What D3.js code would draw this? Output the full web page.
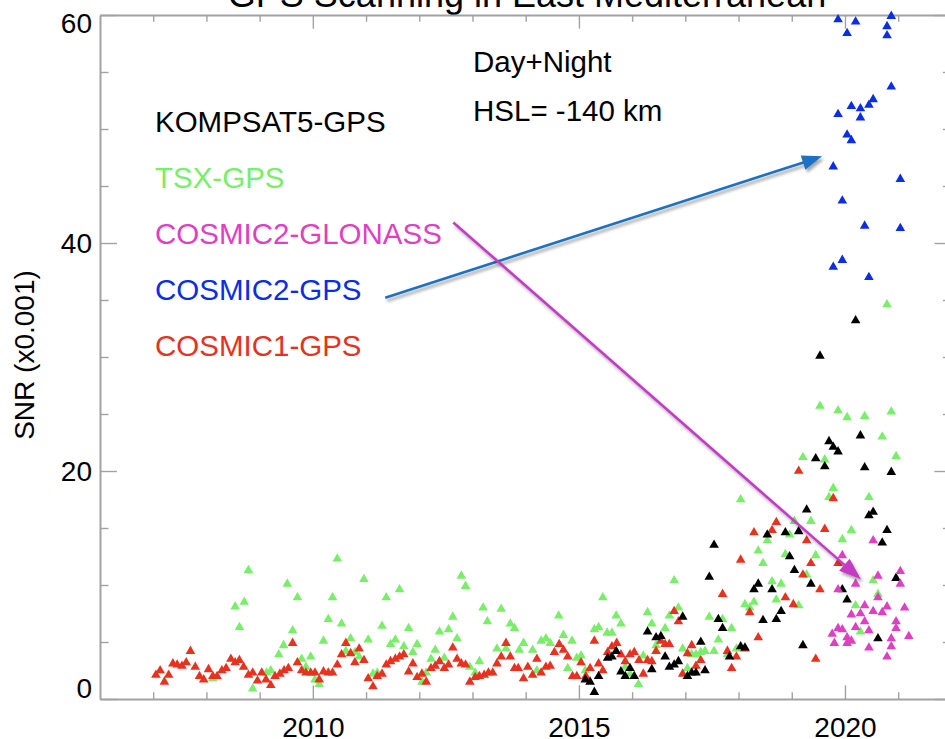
<!DOCTYPE html>
<html>
<head>
<meta charset="utf-8">
<script src="https://cdn.jsdelivr.net/npm/d3@7/dist/d3.min.js"></script>
<style>
  html, body { margin: 0; padding: 0; background: #fff; }
  svg { display: block; font-family: "Liberation Sans", Arial, Helvetica, sans-serif; }
</style>
</head>
<body>
<svg id="chart" width="945" height="739"></svg>
<script>
// ---- series: decimal year and SNR (x0.001) ----
const cosmic1Year = [
  2007.05,2007.13,2007.21,2007.29,2007.37,2007.45,2007.54,2007.62,2007.70,2007.79,2007.87,2007.95,
  2008.04,2008.12,2008.20,2008.29,2008.37,2008.46,2008.54,2008.62,2008.70,2008.79,2008.87,2008.96,
  2009.04,2009.12,2009.21,2009.29,2009.38,2009.46,2009.54,2009.62,2009.71,2009.79,2009.87,2009.96,
  2010.04,2010.12,2010.20,2010.29,2010.37,2010.46,2010.54,2010.62,2010.71,2010.79,2010.87,2010.96,
  2011.04,2011.13,2011.21,2011.30,2011.38,2011.46,2011.55,2011.63,2011.71,2011.80,2011.88,2011.96,
  2012.05,2012.13,2012.22,2012.30,2012.38,2012.47,2012.55,2012.63,2012.71,2012.79,2012.87,2012.95,
  2013.05,2013.13,2013.22,2013.30,2013.38,2013.46,2013.54,2013.63,2013.71,2013.79,2013.86,2013.96,
  2014.04,2014.13,2014.21,2014.29,2014.38,2014.46,2014.54,2014.63,2014.71,2014.79,2014.88,2014.96,
  2015.04,2015.13,2015.21,2015.29,2015.37,2015.45,2015.54,2015.62,2015.71,2015.79,2015.87,2015.96,
  2016.04,2016.13,2016.21,2016.29,2016.37,2016.45,2016.54,2016.62,2016.70,2016.79,2016.87,2016.95,
  2017.04,2017.12,2017.20,2017.29,2017.70,2017.79,2017.87,2017.96,
  2018.04,2018.12,2018.21,2018.29,2018.37,2018.63,2018.71,2018.88,
  2019.03,2019.13,2019.21,2019.28,2019.36,2019.45,2019.53,2019.62,2019.78,2019.87
];
const cosmic1Snr = [
  2.1,2.5,1.5,2.1,3.1,3.0,2.9,3.2,4.2,2.8,2.0,1.7,
  2.6,2.0,2.0,2.5,2.7,3.5,3.2,3.4,2.8,2.1,2.3,1.6,
  2.3,1.7,1.2,2.0,2.2,2.5,2.7,4.9,3.2,2.5,2.3,2.3,
  2.3,1.7,2.4,2.3,2.3,3.0,3.9,4.9,4.0,3.2,4.4,3.4,
  1.8,1.1,2.0,2.2,3.0,3.3,3.5,3.7,3.9,2.4,3.1,1.9,
  2.2,1.5,2.7,2.9,3.3,2.7,3.0,4.5,3.5,3.1,3.0,1.5,
  1.9,2.0,2.1,2.3,2.3,3.1,3.7,4.9,3.7,2.7,2.7,1.8,
  2.8,2.1,3.5,2.3,2.8,2.9,4.1,4.8,4.3,3.7,2.0,2.0,
  3.2,2.0,2.7,5.1,3.1,2.5,4.1,4.6,4.9,3.9,3.3,3.9,
  4.1,3.4,2.2,3.4,3.3,4.2,5.1,4.8,4.8,7.7,6.8,2.2,
  4.0,4.7,2.9,3.4,9.2,4.2,2.7,3.7,
  12.2,4.4,7.6,14.6,5.4,14.8,15.5,8.9,
  8.3,20.0,10.9,13.9,11.9,3.5,9.6,14.9,17.6,11.9
];

const tsxYear = [
  2008.12,2008.54,2008.62,2008.71,2008.79,2008.87,2009.13,2009.21,2009.36,2009.45,2009.52,2009.62,
  2009.71,2009.79,2009.87,2009.96,2010.04,2010.12,2010.20,2010.29,2010.37,2010.46,2010.54,2010.62,
  2010.71,2010.79,2010.87,2010.96,2011.04,2011.13,2011.21,2011.30,2011.38,2011.46,2011.55,2011.63,
  2011.71,2011.80,2011.88,2011.96,2012.05,2012.13,2012.22,2012.30,2012.38,2012.47,2012.55,2012.63,
  2012.71,2012.79,2012.87,2012.95,2013.05,2013.13,2013.20,2013.28,2013.46,2013.54,2013.63,2013.71,
  2013.79,2013.88,2013.96,2014.13,2014.21,2014.29,2014.38,2014.46,2014.62,2014.71,2014.79,2014.87,
  2014.96,2015.04,2015.12,2015.29,2015.37,2015.45,2015.53,2015.62,2015.70,2015.79,2015.87,2015.96,
  2016.12,2016.21,2016.29,2016.37,2016.45,2016.62,2016.70,2016.79,2016.87,2016.95,2017.04,2017.12,
  2017.20,2017.29,2017.37,2017.45,2017.54,2017.62,2017.70,2017.79,2017.87,2017.96,2018.04,2018.12,
  2018.21,2018.29,2018.37,2018.46,2018.54,2018.63,2018.71,2018.80,2018.88,2018.96,2019.05,2019.13,
  2019.21,2019.28,2019.36,2019.45,2019.53,2019.62,2019.70,2019.78,2019.87,2019.95,2020.04,2020.12,
  2020.20,2020.29,2020.37,2020.45,2020.53,2020.62,2020.70,2020.79,2020.87,2020.96
];
const tsxSnr = [
  1.8,8.1,6.3,8.5,11.3,0.9,2.3,2.5,3.9,4.7,10.1,6.0,
  8.9,3.5,2.8,3.7,1.7,1.3,5.1,7.0,8.9,12.3,6.6,4.2,
  5.3,4.1,3.7,10.5,5.2,2.2,2.3,6.4,8.9,4.8,5.2,9.6,
  4.6,6.2,4.1,4.8,1.5,2.3,3.5,4.3,5.9,3.6,6.1,7.2,
  5.3,10.8,9.9,2.8,2.3,3.3,8.0,6.8,4.4,7.9,4.4,6.6,
  6.2,4.3,4.9,4.3,2.5,5.1,5.3,4.9,7.3,5.6,2.7,5.1,
  3.6,3.8,2.5,6.1,6.3,8.9,5.8,5.8,7.3,6.6,2.8,2.2,
  1.3,3.8,7.6,6.6,4.7,6.2,7.3,10.4,8.0,4.4,2.7,3.9,
  3.9,4.1,4.2,7.2,4.2,5.2,7.0,3.9,6.2,4.4,17.5,8.3,
  8.0,8.5,13.0,11.9,13.9,10.3,8.7,10.1,12.7,14.4,15.6,8.2,
  21.2,10.9,15.6,12.6,25.7,21.0,17.7,18.5,25.3,14.0,24.7,14.8,
  8.2,5.9,24.8,17.7,10.4,9.2,23.0,34.6,25.2,21.3
];

const kompsatYear = [
  2015.12,2015.21,2015.29,2015.37,2015.54,2015.62,2015.70,2015.79,2015.87,2015.96,2016.04,2016.29,
  2016.37,2016.45,2016.54,2016.62,2016.70,2016.79,2016.87,2016.95,2017.04,2017.12,2017.20,2017.29,
  2017.37,2017.45,2017.54,2017.62,2017.70,2017.83,2018.04,2018.12,2018.29,2018.37,2018.46,2018.54,
  2018.63,2018.71,2018.80,2018.88,2018.96,2019.05,2019.13,2019.21,2019.28,2019.36,2019.45,2019.53,
  2019.62,2019.70,2019.78,2019.87,2019.95,2020.04,2020.20,2020.29,2020.37,2020.45,2020.53,2020.62,
  2020.70,2020.79,2020.87,2020.96
];
const kompsatSnr = [
  1.7,1.5,0.6,2.0,3.6,3.7,4.2,2.4,2.0,2.7,2.0,5.9,
  2.6,5.4,5.5,3.7,2.8,3.0,3.3,7.2,2.0,2.3,2.3,5.0,
  2.5,10.7,13.5,7.0,6.2,3.7,4.6,4.5,9.6,10.1,6.9,14.4,
  9.6,7.0,7.7,14.6,12.5,11.3,14.7,4.7,16.6,10.1,21.1,30.1,
  20.4,22.6,22.1,21.7,9.6,8.7,33.2,23.1,20.3,16.1,16.4,5.3,
  13.7,14.8,19.9,10.6
];

const glonassYear = [
  2019.76,2019.80,2019.87,2019.87,2019.95,2019.95,2020.04,2020.04,2020.12,2020.12,2020.20,2020.20,
  2020.29,2020.37,2020.37,2020.45,2020.45,2020.53,2020.53,2020.62,2020.62,2020.70,2020.79,2020.79,
  2020.87,2020.87,2020.96,2020.96,2021.04,2021.04,2021.12,2021.20
];
const glonassSnr = [
  5.7,4.9,9.6,6.2,12.6,6.1,5.4,4.9,7.4,5.1,10.1,6.3,
  7.5,8.2,6.8,6.0,4.5,13.9,7.7,10.8,8.9,7.6,8.1,3.7,
  5.3,4.6,6.8,6.2,11.2,10.1,8.0,5.5
];

const cosmic2Year = [
  2019.78,2019.78,2019.87,2019.87,2019.95,2019.95,2020.04,2020.04,2020.12,2020.12,2020.20,2020.29,
  2020.29,2020.37,2020.45,2020.45,2020.53,2020.79,2020.79,2020.87,2020.87,2021.04,2021.04
];
const cosmic2Snr = [
  46.7,37.9,59.6,51.3,43.7,38.5,58.4,49.5,52.0,49.0,59.4,51.8,
  51.0,41.5,52.1,37.0,52.6,59.0,58.2,59.9,53.7,45.6,41.3
];

// ---- axis ticks and labels ----
const xMajorTicks = [2010, 2015, 2020];
const xMinorTicks = [2007, 2008, 2009, 2011, 2012, 2013, 2014, 2016, 2017, 2018, 2019, 2021];
const yMajorTicks = [0, 20, 40, 60];
const yMinorTicks = [5, 10, 15, 25, 30, 35, 45, 50, 55];

// ---- legend / annotation text ----
const legendNames = ["KOMPSAT5-GPS", "TSX-GPS", "COSMIC2-GLONASS", "COSMIC2-GPS", "COSMIC1-GPS"];
const legendColors = ["#000000", "#78ee69", "#e03fc2", "#0b2de6", "#e6321f"];
const titleText = "GPS Scanning in East Mediterranean";
const noteLines = ["Day+Night", "HSL= -140 km"];
const yLabel = "SNR (x0.001)";

// annotation arrows in data units: [x0, y0, x1, y1]
const arrowBlue = [2011.36, 35.2, 2019.57, 47.6];
const arrowMagenta = [2012.64, 41.8, 2020.30, 10.5];

(function () {
  // ---- layout ----
  const svg = d3.select("#chart");
  const plotLeft = 100, plotRight = 951.4, plotTop = 15, plotBottom = 699;
  const x = d3.scaleLinear().domain([2006, 2022]).range([plotLeft, plotRight]);
  const y = d3.scaleLinear().domain([0, 60]).range([plotBottom, plotTop]);

  const axisColor = "#a2a2a2";
  const tickFont = 28;
  const textFont = 29.5;

  const defs = svg.append("defs");
  const shadow = defs.append("filter").attr("id", "arrowShadow")
    .attr("x", "-10%").attr("y", "-10%").attr("width", "130%").attr("height", "130%");
  shadow.append("feDropShadow").attr("dx", 2).attr("dy", 3).attr("stdDeviation", 1.6)
    .attr("flood-color", "#000").attr("flood-opacity", 0.35);

  // title (sits above the frame, largely outside the page)
  svg.append("text").attr("x", 527).attr("y", 7).attr("text-anchor", "middle")
    .attr("font-size", 36).attr("fill", "#000").text(titleText);

  function styleAxis(g) {
    g.selectAll("path.domain").attr("stroke", axisColor).attr("stroke-width", 2);
    g.selectAll(".tick line").attr("stroke", axisColor).attr("stroke-width", 1.4);
    g.selectAll("text").attr("font-size", tickFont).attr("fill", "#000")
      .attr("font-family", "'Liberation Sans', Arial, Helvetica, sans-serif");
  }

  const gx = svg.append("g").attr("transform", `translate(0,${plotBottom})`)
    .call(d3.axisBottom(x).tickValues(xMajorTicks).tickFormat(d3.format("d"))
      .tickSize(-13.7).tickSizeOuter(0).tickPadding(18));
  styleAxis(gx);
  const gxMinor = svg.append("g").attr("transform", `translate(0,${plotBottom})`)
    .call(d3.axisBottom(x).tickValues(xMinorTicks).tickFormat("").tickSize(-6.8).tickSizeOuter(0));
  styleAxis(gxMinor);
  gxMinor.select("path.domain").remove();

  const gxTop = svg.append("g").attr("transform", `translate(0,${plotTop})`)
    .call(d3.axisTop(x).tickValues(xMajorTicks).tickFormat("").tickSize(-13.7).tickSizeOuter(0));
  styleAxis(gxTop);
  const gxTopMinor = svg.append("g").attr("transform", `translate(0,${plotTop})`)
    .call(d3.axisTop(x).tickValues(xMinorTicks).tickFormat("").tickSize(-6.8).tickSizeOuter(0));
  styleAxis(gxTopMinor);
  gxTopMinor.select("path.domain").remove();

  const gy = svg.append("g").attr("transform", `translate(${plotLeft},0)`)
    .call(d3.axisLeft(y).tickValues(yMajorTicks).tickFormat(d3.format("d"))
      .tickSize(-17).tickSizeOuter(0).tickPadding(8));
  styleAxis(gy);
  // end labels are kept inside the frame height
  gy.selectAll(".tick text").attr("dy", d => d === 0 ? "-0.06em" : d === 60 ? "0.62em" : "0.34em");
  const gyMinor = svg.append("g").attr("transform", `translate(${plotLeft},0)`)
    .call(d3.axisLeft(y).tickValues(yMinorTicks).tickFormat("").tickSize(-8.5).tickSizeOuter(0));
  styleAxis(gyMinor);
  gyMinor.select("path.domain").remove();

  const gyRight = svg.append("g").attr("transform", `translate(${plotRight},0)`)
    .call(d3.axisRight(y).tickValues(yMajorTicks).tickFormat("").tickSize(-17).tickSizeOuter(0));
  styleAxis(gyRight);
  const gyRightMinor = svg.append("g").attr("transform", `translate(${plotRight},0)`)
    .call(d3.axisRight(y).tickValues(yMinorTicks).tickFormat("").tickSize(-8.5).tickSizeOuter(0));
  styleAxis(gyRightMinor);
  gyRightMinor.select("path.domain").remove();

  // y-axis title
  svg.append("text")
    .attr("transform", `translate(34,355) rotate(-90)`)
    .attr("text-anchor", "middle").attr("font-size", 28).attr("fill", "#000")
    .text(yLabel);

  // scatter series, drawn in layer order
  const tri = d3.symbol().type(d3.symbolTriangle).size(40);
  function drawSeries(years, vals, color) {
    const pts = years.map((yr, i) => ({ yr, v: vals[i] }));
    svg.append("g").selectAll("path").data(pts).join("path")
      .attr("d", tri)
      .attr("transform", d => `translate(${x(d.yr)},${y(d.v)})`)
      .attr("fill", color);
  }
  drawSeries(tsxYear, tsxSnr, legendColors[1]);
  drawSeries(cosmic1Year, cosmic1Snr, legendColors[4]);
  drawSeries(kompsatYear, kompsatSnr, legendColors[0]);
  drawSeries(glonassYear, glonassSnr, legendColors[2]);
  drawSeries(cosmic2Year, cosmic2Snr, legendColors[3]);

  // legend
  svg.append("g").selectAll("text").data(legendNames).join("text")
    .attr("x", 155).attr("y", (d, i) => 132 + i * 56)
    .attr("font-size", textFont).attr("fill", (d, i) => legendColors[i])
    .text(d => d);

  // notes
  svg.append("g").selectAll("text").data(noteLines).join("text")
    .attr("x", 473).attr("y", (d, i) => 72 + i * 49)
    .attr("font-size", textFont).attr("fill", "#000")
    .text(d => d);

  // arrows
  function drawArrow(a, color, width, headLen, headHalf) {
    const x0 = x(a[0]), y0 = y(a[1]), x1 = x(a[2]), y1 = y(a[3]);
    const dx = x1 - x0, dy = y1 - y0, len = Math.hypot(dx, dy);
    const ux = dx / len, uy = dy / len;
    const bx = x1 - ux * headLen, by = y1 - uy * headLen;
    const g = svg.append("g").attr("filter", "url(#arrowShadow)");
    g.append("line").attr("x1", x0).attr("y1", y0).attr("x2", bx + ux * 2).attr("y2", by + uy * 2)
      .attr("stroke", color).attr("stroke-width", width);
    g.append("path")
      .attr("d", `M${x1},${y1}L${bx - uy * headHalf},${by + ux * headHalf}L${bx + uy * headHalf},${by - ux * headHalf}Z`)
      .attr("fill", color);
  }
  drawArrow(arrowBlue, "#1d71c2", 2.6, 20, 7.5);
  drawArrow(arrowMagenta, "#c23dc4", 2.6, 22, 8);
})();
</script>
</body>
</html>
